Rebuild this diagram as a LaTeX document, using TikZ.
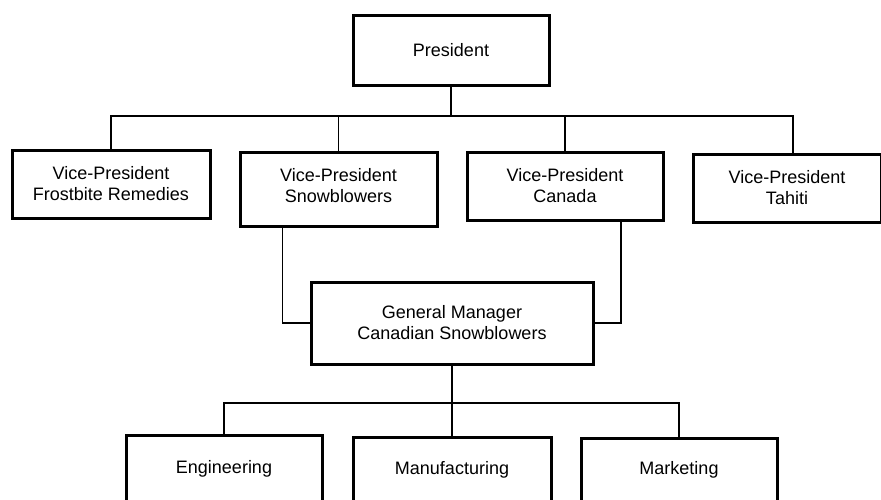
\documentclass[tikz,border=0pt]{standalone}
\usepackage{fontspec}
\setmainfont{Liberation Sans}
\begin{document}
\begin{tikzpicture}[x=1pt,y=-1pt,
  box/.style={draw=black,line width=3pt,fill=white,inner sep=0pt,align=center,
    font=\fontsize{18}{21}\selectfont},
  conn/.style={draw=black,line width=1.5pt}]
\useasboundingbox (0,0) rectangle (881,499);
\clip (0,0) rectangle (881,499);
\fill[white] (0,0) rectangle (881,499);
% nodes
\node[box,minimum width=196pt,minimum height=70pt] (pres) at (451,50) {President};
\node[box,minimum width=198pt,minimum height=68pt] (vpf) at (111,184) {Vice-President\\Frostbite Remedies};
\node[box,minimum width=197pt,minimum height=74pt,text depth=8pt] (vps) at (338.5,189) {Vice-President\\Snowblowers};
\node[box,minimum width=196pt,minimum height=68pt] (vpc) at (565,186) {Vice-President\\Canada};
\node[box,minimum width=188pt,minimum height=68pt] (vpt) at (787,188) {Vice-President\\Tahiti};
\node[box,minimum width=282pt,minimum height=82pt] (gm) at (452,323) {General Manager\\Canadian Snowblowers};
\node[box,minimum width=196pt,minimum height=67pt] (eng) at (224,468.5) {Engineering};
\node[box,minimum width=198pt,minimum height=66pt] (mfg) at (452,470) {Manufacturing};
\node[box,minimum width=196pt,minimum height=64pt] (mkt) at (679,470) {Marketing};
% top bus
\coordinate (bus1) at (0,116);
\coordinate (tahtop) at ([xshift=6pt]vpt.north);
\draw[conn] (pres.south) -- (pres.south |- bus1);
\draw[conn] (vpf.north) -- (vpf.north |- bus1) -- (tahtop |- bus1) -- (tahtop);
\draw[conn] (vps.north) -- (vps.north |- bus1);
\draw[conn] (vpc.north) -- (vpc.north |- bus1);
% dual reporting
\draw[conn] ([xshift=-56pt]vps.south) |- (gm.west);
\draw[conn] ([xshift=56pt]vpc.south) |- (gm.east);
% bottom bus
\coordinate (bus2) at (0,403);
\draw[conn] (gm.south) -- (gm.south |- bus2);
\draw[conn] (eng.north) -- (eng.north |- bus2) -- (mkt.north |- bus2) -- (mkt.north);
\draw[conn] (mfg.north) -- (mfg.north |- bus2);
\end{tikzpicture}
\end{document}
